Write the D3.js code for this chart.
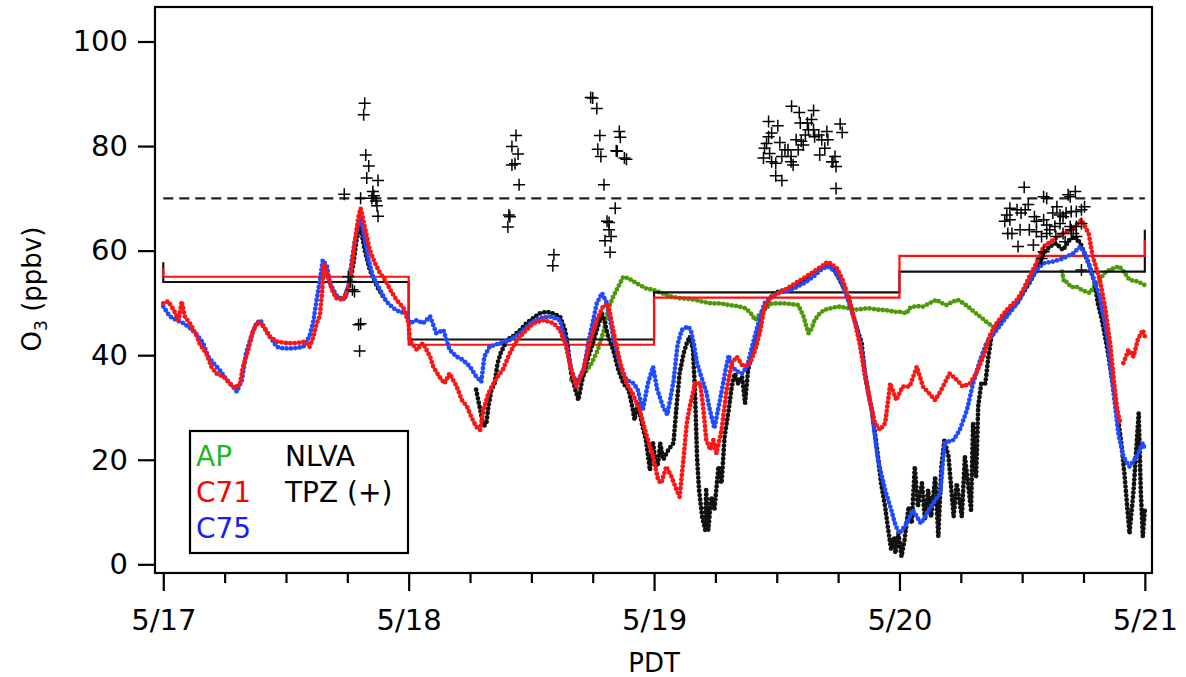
<!DOCTYPE html>
<html>
<head>
<meta charset="utf-8">
<script src="https://cdn.jsdelivr.net/npm/d3@7"></script>
<style>
  html, body { margin: 0; padding: 0; background: #fff; }
  svg { display: block; font-family: "DejaVu Sans", sans-serif; }
</style>
</head>
<body>
<svg id="chart" width="1186" height="677"></svg>
<script>
// ---- Ozone time series, hours since 5/17 00:00 PDT, O3 in ppbv ----
// A null value marks a gap in the record.

// Tick labels
const dayTicks = [0, 24, 48, 72, 96];
const dayLabels = ["5/17", "5/18", "5/19", "5/20", "5/21"];
const sixHourTicks = [6, 12, 18, 30, 36, 42, 54, 60, 66, 78, 84, 90];
const o3Ticks = [0, 20, 40, 60, 80, 100];

// Ozone standard (ppbv)
const standardO3 = 70;

// Daily step values: [value at start edge, day1, day2, day3, day4, value at end edge]
const stepEdges = [0, 0, 24, 48, 72, 96];
const nlvaDaily = [57.8, 54, 43, 52, 56, 64];
const c71Daily = [56.7, 55, 42, 51, 59, 62];

// AP site
const apO3 = [
  [39.9,35.3],[40.3,34.6],[40.6,35.3],[41.2,36.5],[41.9,38.5],[42.5,41.0],[43.1,44.8],[43.5,48.7],
  [44.0,51.2],[44.5,53.1],[45.0,55.0],[45.5,54.7],[46.0,54.1],[46.6,53.4],[47.2,52.8],[47.9,52.5],
  [48.7,51.9],[49.5,51.3],[50.4,50.9],[51.2,50.8],[52.0,50.6],[52.8,50.2],[53.6,49.9],[54.5,49.9],
  [55.3,49.6],[56.1,49.4],[56.9,49.0],[57.4,48.2],[57.9,46.7],[58.4,48.0],[59.5,49.9],[60.8,49.9],
  [62.1,49.6],[62.6,47.5],[62.8,46.1],[63.1,44.2],[63.4,45.0],[63.7,46.7],[64.2,48.0],[64.7,48.7],
  [66.0,49.3],[67.0,49.0],[67.9,48.7],[68.9,49.0],[69.9,48.7],[70.7,48.6],[71.5,48.3],[72.0,48.3],
  [72.7,48.0],[73.0,49.0],[73.6,49.4],[74.3,49.3],[75.0,50.0],[75.6,50.6],[76.1,50.0],[76.6,49.6],
  [77.2,50.2],[77.7,50.6],[78.2,50.0],[78.7,49.3],[79.1,48.6],[79.5,48.0],[80.0,47.2],[80.5,46.4],
  [80.9,45.8],[81.3,45.2],[81.8,46.7],[81.9,null],
  [87.9,56.0],[88.1,54.0],[88.3,54.1],[88.8,53.0],[89.3,53.1],[89.9,52.4],[90.6,51.9],[91.0,53.0],
  [91.3,53.8],[91.8,55.0],[92.2,56.0],[92.8,56.5],[93.5,57.0],[94.0,55.8],[94.5,54.4],[95.3,54.1],[96.0,53.4]
];

// C71 site
const c71O3 = [
  [0.0,49.9],[0.5,50.3],[1.0,48.7],[1.5,46.7],[1.8,50.3],[2.1,47.4],[2.6,46.1],[3.3,43.6],[3.6,42.0],
  [4.2,40.4],[4.7,37.8],[5.2,36.5],[5.9,35.9],[6.5,34.6],[7.0,33.7],[7.5,34.6],[7.8,37.8],[8.3,41.0],
  [8.8,44.8],[9.3,46.4],[9.8,45.5],[10.4,43.6],[11.1,42.6],[12.1,42.3],[13.0,42.3],[13.9,42.6],[14.3,41.6],
  [14.7,43.6],[15.0,46.1],[15.3,47.4],[15.5,51.2],[15.7,57.6],[16.1,55.0],[16.5,52.5],[16.9,50.9],[17.6,50.6],
  [18.1,52.5],[18.4,56.3],[18.7,61.4],[19.1,66.5],[19.3,68.1],[19.7,64.6],[20.2,60.1],[20.7,57.6],[21.2,55.7],
  [21.7,54.4],[22.2,52.5],[22.8,50.6],[23.5,49.0],[24.0,46.1],[24.1,42.9],
  [24.8,41.0],[25.4,42.3],[26.1,39.7],[26.4,37.8],[27.0,35.9],[27.5,34.6],[28.0,36.5],[28.7,34.0],[29.2,31.4],
  [29.7,30.2],[30.1,28.3],[30.6,26.3],[31.0,25.7],[31.3,29.5],[31.8,32.7],[32.3,34.6],[32.7,35.9],[33.2,37.2],
  [33.9,40.4],[34.6,42.9],[35.2,44.2],[36.2,46.1],[37.2,46.7],[38.2,46.1],[38.8,44.8],[39.4,41.6],[39.9,37.2],
  [40.4,34.0],[41.1,37.2],[41.7,42.3],[42.4,46.7],[43.0,49.3],[43.5,49.9],[44.0,44.8],[44.7,38.5],[45.3,34.6],
  [45.9,32.7],[46.6,29.5],[47.2,25.1],[47.9,20.6],[48.4,16.1],
  [48.7,15.5],[49.2,18.7],[49.7,16.8],[50.2,14.2],[50.5,12.9],[50.9,20.6],[51.2,27.0],[51.5,30.2],[52.0,34.6],
  [52.5,34.6],[52.8,30.2],[53.1,23.8],[53.5,21.9],[53.8,23.8],[54.1,21.2],[54.6,25.7],[55.1,33.4],[55.6,38.5],
  [56.1,39.7],[56.7,37.8],[57.4,38.5],[57.9,41.0],[58.4,44.8],[58.8,49.3],[59.5,51.2],[60.8,52.5],[62.1,54.1],
  [63.4,55.7],[64.4,57.0],[65.0,57.9],[65.9,56.6],[66.5,54.1],[67.0,51.2],[67.6,46.7],[68.1,42.3],[68.6,36.5],
  [69.1,31.4],[69.6,27.0],[70.1,25.7],[70.6,27.0],[71.1,34.6],[71.7,31.4],[72.3,34.0],
  [73.0,34.0],[73.7,37.8],[74.3,34.0],[74.9,32.7],[75.5,31.4],[76.1,33.4],[76.9,36.5],[77.6,35.3],[78.2,34.0],
  [78.9,34.6],[79.5,36.5],[80.2,39.7],[80.8,43.6],[81.5,46.1],[82.5,48.7],[83.5,50.6],[84.1,52.5],[84.7,55.0],
  [85.4,57.6],[86.1,60.8],[87.0,62.0],[88.0,63.3],[89.0,64.3],[89.8,65.9],[90.5,63.3],[90.9,58.9],[91.6,54.4],
  [92.1,49.3],[92.6,42.3],[93.0,34.6],[93.3,29.5],[93.6,27.0],[93.75,null],
  [93.9,38.5],[94.4,41.0],[94.9,39.7],[95.3,42.9],[95.8,44.8],[96.0,43.6]
];

// C75 site
const c75O3 = [
  [0.0,49.3],[0.65,47.4],[1.3,46.7],[2.0,46.1],[2.6,45.2],[3.3,43.9],[3.9,42.3],[4.4,39.7],[4.9,38.5],
  [5.5,37.2],[6.2,35.3],[6.8,34.0],[7.2,33.0],[7.7,35.3],[8.1,40.4],[8.6,43.6],[9.1,46.1],[9.5,46.7],
  [9.9,45.2],[10.4,43.6],[11.1,41.6],[11.7,41.3],[12.7,41.3],[13.7,41.6],[14.3,43.6],[14.7,46.7],[15.0,50.6],
  [15.3,54.1],[15.6,58.2],[16.0,57.0],[16.3,53.8],[16.9,51.5],[17.6,50.6],[18.1,53.1],[18.4,57.6],[18.7,61.4],
  [19.1,65.2],[19.3,66.5],[19.6,63.3],[20.0,58.9],[20.5,55.0],[21.2,52.5],[21.8,50.3],[22.5,49.0],[23.1,48.3],
  [23.8,48.0],
  [24.1,46.1],[24.8,46.7],[25.4,46.1],[26.1,47.4],[26.7,44.2],[27.4,44.8],[28.0,41.0],[28.7,39.7],[29.3,39.1],
  [30.0,37.8],[30.6,35.9],[31.1,34.9],[31.4,39.7],[31.9,41.6],[32.9,42.3],[33.9,42.9],[34.9,44.2],[35.9,46.1],
  [36.8,47.1],[37.8,47.4],[38.8,46.7],[39.4,42.3],[39.9,37.2],[40.4,34.6],[41.1,37.2],[41.7,43.6],[42.4,49.9],
  [42.9,51.9],[43.4,49.9],[44.0,43.6],[44.7,37.8],[45.3,35.3],[46.0,34.6],[46.4,33.4],[46.9,29.5],[47.4,34.6],
  [47.9,37.8],
  [48.3,33.5],[48.9,30.0],[49.3,28.6],[49.9,35.0],[50.3,42.0],[50.7,44.8],[51.3,45.5],[51.6,44.8],[51.9,42.0],
  [52.2,38.5],[52.6,36.0],[53.1,33.0],[53.4,30.0],[53.9,26.0],[54.2,29.0],[54.6,33.0],[55.0,37.2],[55.3,40.0],
  [55.6,38.0],[56.0,37.0],[56.6,36.5],[57.1,37.8],[57.5,41.0],[57.9,44.0],[58.4,47.5],[58.8,49.9],[59.5,51.2],
  [60.1,51.9],[61.4,52.5],[62.7,53.8],[63.7,55.2],[64.4,56.5],[65.0,57.0],[65.7,56.0],[66.3,54.0],[66.7,52.0],
  [67.3,48.7],[67.9,44.8],[68.3,41.0],[68.6,37.2],[68.9,33.4],[69.3,29.5],[69.6,24.5],[69.9,20.0],[70.6,14.2],
  [71.2,10.4],[71.6,7.5],
  [72.0,5.9],[72.7,7.8],[73.3,10.4],[74.1,7.8],[74.7,9.8],[75.3,11.7],[76.0,13.6],[76.4,23.2],[77.3,23.8],
  [77.9,25.7],[78.6,29.5],[79.2,34.6],[79.9,39.1],[80.5,42.3],[81.5,44.8],[82.5,47.4],[83.5,49.9],[84.4,53.1],
  [85.4,56.3],[86.1,57.6],[87.0,57.9],[88.0,58.5],[89.0,59.5],[89.7,60.8],[90.3,58.9],[90.9,55.0],[91.6,51.2],
  [92.1,46.1],[92.4,42.3],[92.7,36.5],[93.1,30.2],[93.4,25.1],[93.9,20.6],[94.5,18.7],[95.2,20.6],[95.8,23.2],
  [96.0,22.0]
];

// NLVA site
const nlvaO3 = [
  [17.8,51.2],[18.3,54.4],[18.6,57.6],[18.9,62.0],[19.2,64.6],[19.4,63.3],[19.7,60.1],[20.2,56.3],[20.9,53.1],
  [21.5,51.2],[21.6,null],
  [30.6,33.4],[31.0,29.5],[31.3,26.3],[31.6,27.0],[31.8,30.2],[32.1,33.4],[32.4,34.6],[32.7,38.5],[33.0,40.4],
  [33.6,42.9],[34.2,43.6],[34.9,44.8],[35.5,46.1],[36.2,47.1],[36.8,48.0],[37.5,48.3],[38.1,48.0],[38.8,47.4],
  [39.3,44.8],[39.6,41.0],[39.9,36.5],[40.3,33.4],[40.6,31.4],[40.9,34.6],[41.4,38.5],[41.9,41.6],[42.4,44.8],
  [42.9,48.0],[43.2,46.1],[43.5,43.6],[44.0,41.0],[44.5,37.2],[45.0,34.6],[45.5,33.4],[45.8,30.8],[46.1,27.6],
  [46.4,30.8],[46.8,27.0],[47.2,23.8],[47.6,18.0],[47.9,23.2],[48.2,18.7],[48.4,19.3],[48.6,23.2],[48.9,20.0],
  [49.4,21.9],[49.9,23.2],[50.2,30.2],[50.5,36.5],[50.9,40.4],[51.2,42.3],[51.5,43.6],[51.8,41.0],[52.0,33.4],
  [52.2,20.6],[52.4,14.2],[52.7,9.1],[53.0,6.6],[53.1,14.2],[53.3,6.6],[53.6,12.9],[53.9,10.4],[54.3,18.7],
  [54.6,15.5],[54.9,24.4],[55.3,29.5],[55.6,34.0],[55.9,36.5],[56.2,34.6],[56.6,35.9],[56.9,30.8],[57.2,37.2],
  [57.7,41.6],[58.2,45.5],[58.7,48.7],[59.2,50.6],[59.8,51.9],[60.8,52.5],[61.8,53.1],[62.7,54.4],[63.7,56.0],
  [64.5,57.0],[65.4,57.0],[66.0,55.0],[66.5,53.1],[67.0,51.2],[67.5,47.4],[68.0,44.2],[68.3,42.3],[68.6,36.5],
  [68.9,33.4],[69.3,29.5],[69.6,25.1],[69.9,20.6],[70.2,15.5],[70.6,11.0],[70.9,6.6],[71.2,2.7],[71.5,5.3],
  [71.6,2.1],[71.9,5.9],[72.2,1.5],[72.5,4.7],[72.9,11.0],[73.2,7.8],[73.5,18.7],[73.8,11.0],[74.2,15.5],
  [74.5,8.5],[74.8,14.2],[75.1,9.1],[75.5,16.8],[75.8,5.3],[76.1,18.7],[76.4,23.8],[76.8,20.6],[77.3,9.1],
  [77.6,15.5],[78.1,9.1],[78.4,20.6],[79.0,10.4],[79.2,27.0],[79.5,16.8],[79.7,30.2],[80.0,34.6],[80.4,34.6],
  [80.7,39.7],[81.0,43.6],[81.5,45.9],[82.1,46.7],[82.8,48.7],[83.5,49.9],[84.1,51.9],[84.7,53.8],[85.4,56.3],
  [86.1,59.5],[86.7,60.8],[87.3,61.4],[88.0,60.1],[88.6,62.0],[89.2,62.7],[89.7,61.4],[90.1,59.5],[90.6,57.0],
  [91.1,53.8],[91.4,49.9],[91.8,46.7],[92.1,43.6],[92.4,40.4],[92.7,36.5],[93.1,32.1],[93.4,27.6],[93.7,23.2],
  [94.0,17.4],[94.3,10.4],[94.5,5.9],[94.9,14.2],[95.2,23.2],[95.4,28.9],[95.6,14.2],[95.8,5.3],[96.0,10.4]
];

// TPZ site (discrete samples)
const tpzO3 = [
  [19.7,88.2],[19.6,86.0],[19.8,78.3],[20.1,76.2],[19.9,73.9],[21.0,73.4],[17.7,70.8],[20.5,71.3],[20.6,70.5],
  [19.3,70.0],[20.4,70.0],[20.9,68.6],[21.0,66.6],[20.8,69.5],[18.3,54.1],[18.5,52.5],[18.7,52.2],[18.1,55.0],
  [19.1,45.8],[19.3,46.0],[19.2,40.8],
  [34.5,82.0],[34.1,79.9],[34.7,78.5],[34.1,76.4],[34.4,76.6],[34.8,72.6],[33.8,66.8],[33.9,66.5],[33.7,64.5],
  [38.2,59.2],[38.1,57.1],[41.8,89.3],[42.0,89.2],[42.4,87.2],[42.7,82.0],[42.5,79.4],[42.8,78.0],[43.1,72.6],
  [44.6,82.8],[44.7,81.7],[44.3,79.1],[44.4,79.0],[45.1,77.7],[45.3,77.5],[44.2,68.1],[43.4,65.6],[43.6,65.4],
  [43.6,64.0],[43.2,61.9],[43.8,62.7],[43.7,59.7],
  [61.45,87.6],[62.2,86.4],[63.6,86.8],[63.4,85.1],[63.0,84.4],[62.3,84.4],[59.2,84.7],[60.1,83.9],[66.2,84.2],
  [66.4,82.6],[64.9,82.8],[64.1,82.1],[63.6,83.1],[63.1,83.1],[62.8,82.1],[62.4,80.9],[61.9,81.2],[62.6,80.2],
  [62.1,79.3],[63.7,81.8],[64.4,81.2],[65.0,81.2],[64.7,79.6],[64.2,78.3],[65.7,78.0],[65.5,77.0],[65.4,77.0],
  [65.8,76.1],[59.5,82.5],[59.2,81.8],[59.0,80.5],[58.8,79.6],[60.3,80.7],[61.1,79.3],[60.8,79.3],[61.4,78.0],
  [61.6,76.4],[61.4,77.0],[60.5,78.0],[59.5,77.0],[59.9,76.7],[58.7,77.7],[59.3,78.6],[59.9,74.3],[60.5,73.4],
  [65.8,71.9],
  [84.2,72.1],[86.1,70.3],[86.4,70.0],[88.5,70.7],[89.2,71.3],[88.7,70.3],[84.6,68.8],[84.3,67.8],[83.5,67.8],
  [82.8,68.1],[82.5,66.8],[82.8,65.9],[82.3,65.6],[83.9,67.2],[85.2,66.5],[85.4,65.6],[86.1,65.9],[86.4,64.9],
  [87.0,67.2],[87.4,68.4],[87.7,66.8],[88.0,66.5],[88.3,67.2],[88.8,67.5],[89.3,67.5],[89.8,67.8],[90.1,68.4],
  [89.8,65.2],[88.7,64.6],[87.7,65.2],[87.2,64.6],[86.7,64.0],[86.4,63.3],[85.9,62.7],[85.4,63.6],[84.7,64.0],
  [83.8,64.0],[83.0,63.3],[82.6,63.3],[85.1,61.1],[83.6,60.8],[87.3,62.7],[88.0,63.3],[89.0,63.3],[89.3,62.7],
  [89.3,64.6],[88.8,64.0],[88.2,61.7],[86.1,59.8],[85.9,58.5],[89.8,56.3]
];

// ---- Layout ----
const svg = d3.select("#chart");
const plot = { left: 155, right: 1152, top: 7, bottom: 573 };

const x = d3.scaleLinear().domain([-0.81, 96.7]).range([plot.left, plot.right]);
const y = d3.scaleLinear().domain([-1.66, 106.6]).range([plot.bottom, plot.top]);

svg.append("defs").append("clipPath").attr("id", "plot-clip")
  .append("rect")
  .attr("x", plot.left).attr("y", plot.top)
  .attr("width", plot.right - plot.left).attr("height", plot.bottom - plot.top);

const body = svg.append("g").attr("clip-path", "url(#plot-clip)");

const trace = d3.line()
  .defined(d => d[1] != null)
  .x(d => x(d[0]))
  .y(d => y(d[1]));

// Draw a record as a train of round dots along its path
function drawDots(data, color) {
  body.append("path")
    .datum(data)
    .attr("d", trace)
    .attr("fill", "none")
    .attr("stroke", color)
    .attr("stroke-width", 4.8)
    .attr("stroke-linecap", "round")
    .attr("stroke-linejoin", "round")
    .attr("stroke-dasharray", "0 4.4");
}

// AP first so the other records sit on top
drawDots(apO3, "#4b9a06");

// Daily step summaries
const stepLine = d3.line().x((d, i) => x(stepEdges[i])).y(d => y(d)).curve(d3.curveStepAfter);
function drawSteps(vals, color) {
  body.append("path")
    .datum(vals)
    .attr("d", stepLine)
    .attr("fill", "none")
    .attr("stroke", color)
    .attr("stroke-width", 2.2);
}
drawSteps(nlvaDaily, "#111");
drawSteps(c71Daily, "#ff1010");

drawDots(nlvaO3, "#111111");
drawDots(c75O3, "#1f4bff");
drawDots(c71O3, "#ff1414");

// 70 ppbv standard
body.append("line")
  .attr("x1", x(0)).attr("x2", x(96))
  .attr("y1", y(standardO3)).attr("y2", y(standardO3))
  .attr("stroke", "#222")
  .attr("stroke-width", 2.4)
  .attr("stroke-dasharray", "10 6");

// TPZ crosses
const plusShape = {
  draw(ctx, size) {
    const r = Math.sqrt(size) / 2;
    ctx.moveTo(-r, 0); ctx.lineTo(r, 0);
    ctx.moveTo(0, -r); ctx.lineTo(0, r);
  }
};
body.append("g").selectAll("path")
  .data(tpzO3)
  .join("path")
  .attr("transform", d => `translate(${x(d[0])},${y(d[1])})`)
  .attr("d", d3.symbol().type(plusShape).size(144))
  .attr("fill", "none")
  .attr("stroke", "#000")
  .attr("stroke-width", 1.5);

// ---- Frame and axes ----
svg.append("rect")
  .attr("x", plot.left).attr("y", plot.top)
  .attr("width", plot.right - plot.left).attr("height", plot.bottom - plot.top)
  .attr("fill", "none").attr("stroke", "#000").attr("stroke-width", 2.2);

function styleAxis(g, fontSize) {
  g.select(".domain").remove();
  g.selectAll(".tick line").attr("stroke", "#000").attr("stroke-width", 2.2);
  g.selectAll(".tick text")
    .attr("fill", "#000")
    .style("font-family", '"DejaVu Sans", sans-serif')
    .style("font-size", fontSize + "px");
}

svg.append("g")
  .attr("transform", `translate(0,${plot.bottom})`)
  .call(d3.axisBottom(x).tickValues(sixHourTicks).tickSize(10).tickFormat(""))
  .call(g => styleAxis(g, 29));

svg.append("g")
  .attr("transform", `translate(0,${plot.bottom})`)
  .call(d3.axisBottom(x).tickValues(dayTicks).tickSize(18).tickPadding(18)
    .tickFormat((d, i) => dayLabels[i]))
  .call(g => styleAxis(g, 29));

svg.append("g")
  .attr("transform", `translate(${plot.left},0)`)
  .call(d3.axisLeft(y).tickValues(o3Ticks).tickSize(17).tickPadding(10))
  .call(g => styleAxis(g, 29));

// Axis titles
svg.append("text")
  .attr("x", x(48)).attr("y", 672)
  .attr("text-anchor", "middle")
  .style("font-size", "26px")
  .text("PDT");

const yTitle = svg.append("text")
  .attr("transform", "translate(41,289) rotate(-90)")
  .attr("text-anchor", "middle")
  .style("font-size", "26px");
yTitle.append("tspan").text("O");
yTitle.append("tspan").attr("dy", 6).style("font-size", "17px").text("3");
yTitle.append("tspan").attr("dy", -6).text(" (ppbv)");

// ---- Legend ----
const legend = svg.append("g");
legend.append("rect")
  .attr("x", 190).attr("y", 431).attr("width", 218).attr("height", 122)
  .attr("fill", "#fff").attr("stroke", "#000").attr("stroke-width", 2.2);

const legendItems = [
  { label: "AP", color: "#1fb81f", col: 0, row: 0 },
  { label: "C71", color: "#ff0000", col: 0, row: 1 },
  { label: "C75", color: "#1a1aff", col: 0, row: 2 },
  { label: "NLVA", color: "#000", col: 1, row: 0 },
  { label: "TPZ (+)", color: "#000", col: 1, row: 1 }
];
legend.selectAll("text")
  .data(legendItems)
  .join("text")
  .attr("x", d => d.col === 0 ? 196 : 285)
  .attr("y", d => 466 + d.row * 36)
  .attr("fill", d => d.color)
  .style("font-size", "28px")
  .text(d => d.label);
</script>
</body>
</html>
